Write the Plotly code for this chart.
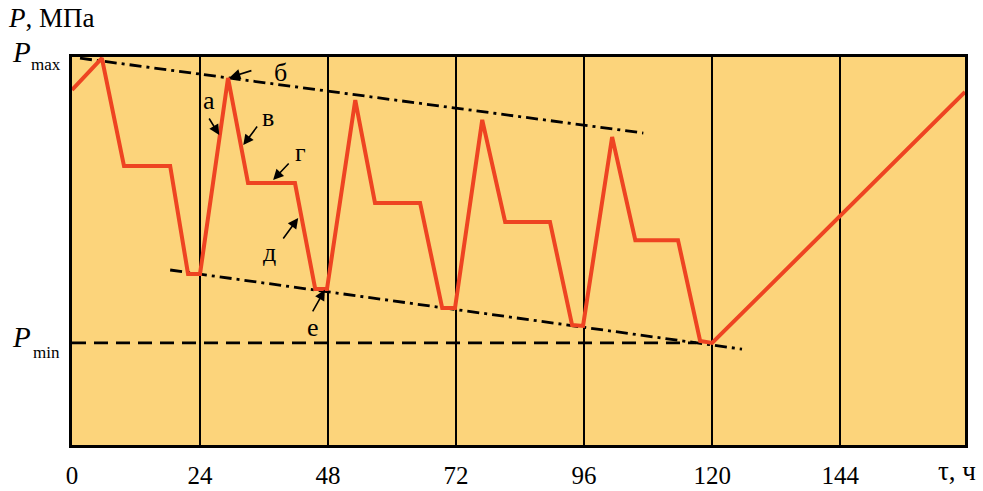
import plotly.graph_objects as go

# Pressure cycle (time in hours, pressure in relative units, 0..100 = bottom..Pmax)
hours = [0, 5.6, 9.75, 18.4, 21.75, 24, 29.25, 33, 41.8, 45.6, 47.8, 53.1, 56.8, 65.25,
         69.4, 71.8, 76.9, 81.2, 89.6, 93.75, 95.8, 101.25, 105.6, 113.6, 117.75, 120, 167.4]
pressure = [91.5, 99.7, 71.9, 71.9, 44.1, 44.1, 94.6, 67.5, 67.5, 40.2, 40.2, 88.9, 62.4, 62.4,
            35.3, 35.3, 83.8, 57.5, 57.5, 30.9, 30.7, 79.4, 52.8, 52.8, 26.8, 26.3, 91.0]

upper_env_x = [1.5, 107.1]
upper_env_y = [99.7, 80.4]
lower_env_x = [18.4, 125.6]
lower_env_y = [45.1, 24.7]
pmin_x = [0, 117]
pmin_y = [26.3, 26.3]

tick_vals = [0, 24, 48, 72, 96, 120, 144]
tick_text = ["0", "24", "48", "72", "96", "120", "144"]

point_labels = ["б", "а", "в", "г", "д", "е"]
label_x = [39.0, 25.7, 36.75, 42.75, 37.1, 45.2]
label_y = [96.1, 88.9, 84.5, 75.5, 49.7, 30.4]
arrow_tip_x = [29.6, 27.6, 32.1, 37.7, 42.4, 47.4]
arrow_tip_y = [94.8, 79.9, 77.3, 68.3, 58.5, 40.0]
arrow_dx = [23, -11, 15, 17, -16, -13]
arrow_dy = [-7, -18, -20, -18, 22, 23]

SERIF = "Liberation Serif, Times New Roman, serif"
BG = "#FCD47B"

W, H = 983, 491
ml, mr, mt, mb = 72, 18, 57, 46
pw, ph = W - ml - mr, H - mt - mb


def px(xp, yp):
    return (xp - ml) / pw, 1 - (yp - mt) / ph


fig = go.Figure()
fig.add_trace(go.Scatter(x=pmin_x, y=pmin_y, mode="lines",
                         line=dict(color="black", width=2.8, dash="14px,8px"), hoverinfo="skip"))
fig.add_trace(go.Scatter(x=upper_env_x, y=upper_env_y, mode="lines",
                         line=dict(color="black", width=2.8, dash="12px,5px,3px,5px"), hoverinfo="skip"))
fig.add_trace(go.Scatter(x=lower_env_x, y=lower_env_y, mode="lines",
                         line=dict(color="black", width=2.8, dash="12px,5px,3px,5px"), hoverinfo="skip"))
fig.add_trace(go.Scatter(x=hours, y=pressure, mode="lines",
                         line=dict(color="#EE4422", width=4), hoverinfo="skip"))

ann = []
for x, y, ax, ay in zip(arrow_tip_x, arrow_tip_y, arrow_dx, arrow_dy):
    ann.append(dict(x=x, y=y, xref="x", yref="y", ax=ax, ay=ay, showarrow=True,
                    arrowhead=2, arrowsize=1.3, arrowwidth=1.6, arrowcolor="black", text=""))
for t, x, y in zip(point_labels, label_x, label_y):
    ann.append(dict(x=x, y=y, xref="x", yref="y", text=t, showarrow=False,
                    font=dict(family=SERIF, size=26, color="black")))

a, b = px(51, 18)
ann.append(dict(x=a, y=b, xref="paper", yref="paper", xanchor="center", yanchor="middle",
                text="<i>P</i>, МПа", showarrow=False, font=dict(family=SERIF, size=27, color="black")))
for sub, yp, ys in [("max", 52, 64), ("min", 337, 352)]:
    a, b = px(21, yp)
    ann.append(dict(x=a, y=b, xref="paper", yref="paper", xanchor="center", yanchor="middle",
                    text="<i>P</i>", showarrow=False, font=dict(family=SERIF, size=29, color="black")))
    a, b = px(46, ys)
    ann.append(dict(x=a, y=b, xref="paper", yref="paper", xanchor="center", yanchor="middle",
                    text=sub, showarrow=False, font=dict(family=SERIF, size=17, color="black")))
a, b = px(957, 471)
ann.append(dict(x=a, y=b, xref="paper", yref="paper", xanchor="center", yanchor="middle",
                text="τ, ч", showarrow=False, font=dict(family=SERIF, size=27, color="black")))

fig.update_layout(
    width=W, height=H, margin=dict(l=ml, r=mr, t=mt, b=mb, autoexpand=False),
    paper_bgcolor="white", plot_bgcolor=BG, showlegend=False,
    annotations=ann,
    xaxis=dict(range=[0, 167.4], tickvals=tick_vals, ticktext=tick_text, showgrid=True,
               gridcolor="black", gridwidth=1.5, zeroline=False, showline=True, linecolor="black",
               linewidth=2.5, mirror=True, ticks="outside", ticklen=6, tickcolor="rgba(0,0,0,0)",
               automargin=False,
               tickfont=dict(family=SERIF, size=25, color="black")),
    yaxis=dict(range=[0, 100], showgrid=False, zeroline=False, showticklabels=False,
               showline=True, linecolor="black", linewidth=2.5, mirror=True, ticks="",
               automargin=False),
)
fig.write_html("out.html")
